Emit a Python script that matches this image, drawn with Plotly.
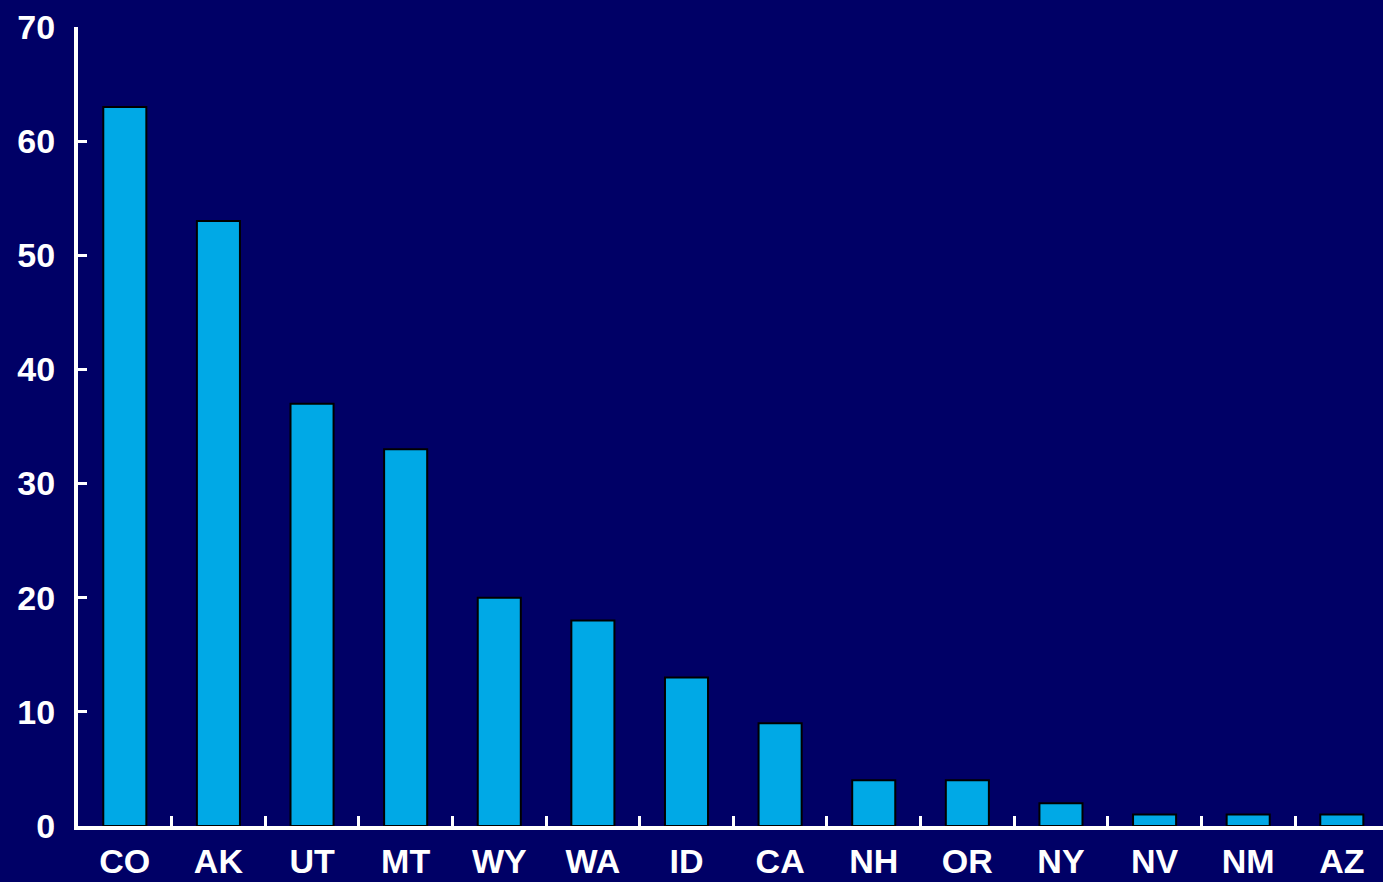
import plotly.graph_objects as go

# State counts, sorted high to low
states = ["CO", "AK", "UT", "MT", "WY", "WA", "ID", "CA", "NH", "OR", "NY", "NV", "NM", "AZ"]
counts = [63, 53, 37, 33, 20, 18, 13, 9, 4, 4, 2, 1, 1, 1]
y_ticks = [0, 10, 20, 30, 40, 50, 60, 70]

BG = "#000066"
BAR = "#00A9E6"
TEXT_FONT = dict(family="Liberation Sans, Arial, sans-serif", size=34, color="white", weight="bold")

fig = go.Figure(
    go.Bar(
        x=states,
        y=counts,
        width=0.46,
        marker=dict(color=BAR, line=dict(color="black", width=2)),
    )
)

fig.update_layout(
    width=1383,
    height=882,
    paper_bgcolor=BG,
    plot_bgcolor=BG,
    margin=dict(l=78, r=0, t=27, b=56),
    showlegend=False,
    font=TEXT_FONT,
)

fig.update_xaxes(
    type="category",
    range=[-0.5, 13.44],
    automargin=False,
    showline=True,
    linecolor="white",
    linewidth=4,
    ticks="inside",
    tickson="boundaries",
    ticklen=10,
    tickwidth=3,
    tickcolor="white",
    showgrid=False,
    zeroline=False,
    tickfont=TEXT_FONT,
    ticklabelstandoff=2,
)

fig.update_yaxes(
    range=[0, 70],
    tickvals=y_ticks,
    automargin=False,
    showline=True,
    linecolor="white",
    linewidth=4,
    ticks="inside",
    ticklen=9,
    tickwidth=3,
    tickcolor="white",
    showgrid=False,
    zeroline=False,
    tickfont=TEXT_FONT,
    ticklabelstandoff=12,
)

fig.write_html("out.html")
